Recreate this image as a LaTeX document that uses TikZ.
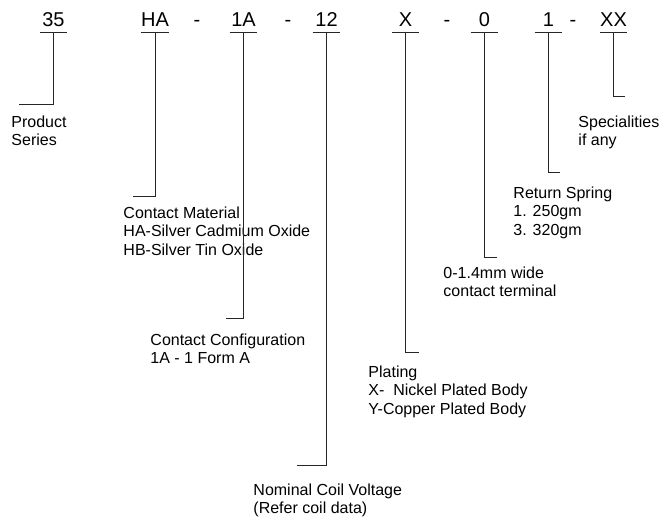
\documentclass[tikz,border=0pt]{standalone}
\usepackage{fontspec}
\setmainfont{Liberation Sans}
\usetikzlibrary{positioning}

\begin{document}
\begin{tikzpicture}[x=1pt, y=-1pt, line width=0.9pt, draw=black!85,
  code/.style={font=\fontsize{20}{24}\selectfont, inner sep=0pt, minimum width=27pt,
    text height=14pt, text depth=5.5pt, anchor=base},
  sep/.style={font=\fontsize{20}{24}\selectfont, inner sep=0pt, anchor=base},
  desc/.style={font=\fontsize{16}{18.5}\selectfont, inner sep=0pt, align=left, anchor=base west}]
  \useasboundingbox (0,0) rectangle (660,520);
  % Code du relais
  \node[code] (c35) at (53.5,26.5) {35};
  \node[code] (cHA) at (155,26.5) {HA};
  \node[sep] (s1) at (197,26.5) {-};
  \node[code] (c1A) at (243.5,26.5) {1A};
  \node[sep] (s2) at (288,26.5) {-};
  \node[code] (c12) at (326.5,26.5) {12};
  \node[code] (cX) at (405.5,26.5) {X};
  \node[sep] (s3) at (447,26.5) {-};
  \node[code] (c0) at (484.5,26.5) {0};
  \node[code] (c1) at (548.5,26.5) {1};
  \node[sep] (s4) at (573,26.5) {-};
  \node[code] (cXX) at (613.5,26.5) {XX};
  % Soulignements
  \draw (c35.south west) -- (c35.south east);
  \draw (cHA.south west) -- (cHA.south east);
  \draw (c1A.south west) -- (c1A.south east);
  \draw (c12.south west) -- (c12.south east);
  \draw (cX.south west) -- (cX.south east);
  \draw (c0.south west) -- (c0.south east);
  \draw (c1.south west) -- (c1.south east);
  \draw (cXX.south west) -- (cXX.south east);
  % Descriptions (base = derniere ligne)
  \node[desc] (dSeries) at (11,145.5) {Product\\Series};
  \node[desc] (dMaterial) at (123,255) {Contact Material\\HA-Silver Cadmium Oxide\\HB-Silver Tin Oxide};
  \node[desc] (dConfig) at (150,363.5) {Contact Configuration\\1A - 1 Form A};
  \node[desc] (dVoltage) at (253,513.5) {Nominal Coil Voltage\\(Refer coil data)};
  \node[desc] (dPlating) at (368,414) {Plating\\X-\ \ Nickel Plated Body\\Y-Copper Plated Body};
  \node[desc] (dTerminal) at (443,296.5) {0-1.4mm wide\\contact terminal};
  \node[desc] (dSpring) at (513,235) {Return Spring\\1. 250gm\\3. 320gm};
  \node[desc] (dSpecial) at (578,145.5) {Specialities\\if any};
  % Renvois
  \coordinate (e35) at (19,104);
  \coordinate (eHA) at (133,196);
  \coordinate (e1A) at (226,318);
  \coordinate (e12) at (297,465);
  \coordinate (eX) at (419,352);
  \coordinate (e0) at (497,257);
  \coordinate (e1) at (560,172);
  \coordinate (eXX) at (625,96);
  \draw (c35.south) |- (e35);
  \draw (cHA.south) |- (eHA);
  \draw (c1A.south) |- (e1A);
  \draw (c12.south) |- (e12);
  \draw (cX.south) |- (eX);
  \draw (c0.south) |- (e0);
  \draw (c1.south) |- (e1);
  \draw (cXX.south) |- (eXX);
\end{tikzpicture}
\end{document}
